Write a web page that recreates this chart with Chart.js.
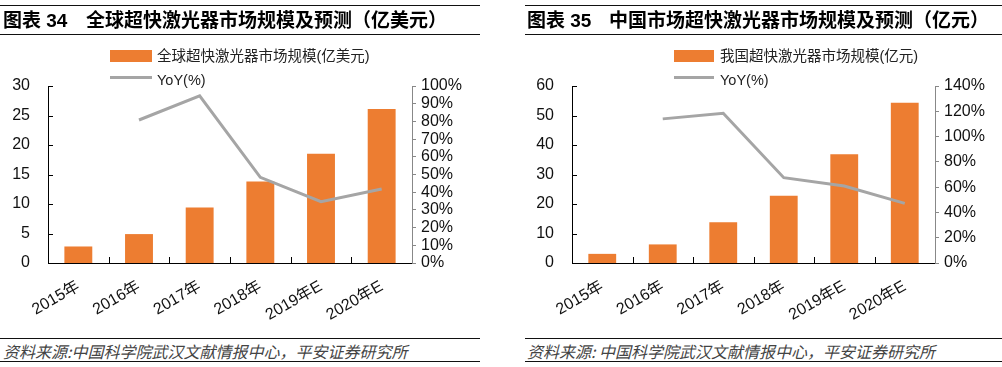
<!DOCTYPE html>
<html>
<head>
<meta charset="utf-8">
<script src="https://cdn.jsdelivr.net/npm/chart.js@4"></script>
<style>
  body { margin: 0; width: 1002px; height: 367px; background: #fff; position: relative; overflow: hidden;
         font-family: "Liberation Sans", "Noto Sans CJK SC", sans-serif; }
  .abs { position: absolute; }
  .rule { position: absolute; height: 0; border-top: 1.5px solid #111; }
  .title { position: absolute; top: 9px; font-size: 19px; font-weight: bold; color: #000; line-height: 24px; white-space: nowrap;
           font-family: "Liberation Sans", "Noto Sans CJK SC", sans-serif; }
  .src { position: absolute; top: 340px; font-size: 16px; font-style: italic; color: #444; line-height: 22px; white-space: nowrap;
         font-family: "Noto Sans CJK SC", sans-serif; }
  .lgtxt { position: absolute; font-size: 14.5px; color: #222; line-height: 18px; white-space: nowrap; }
  canvas { position: absolute; top: 0; }
</style>
</head>
<body>
<canvas id="c1" width="500" height="320" style="left:0"></canvas>
<canvas id="c2" width="502" height="320" style="left:500px"></canvas>

<div class="rule" style="left:0;width:480px;top:5px"></div>
<div class="rule" style="left:0;width:480px;top:34px"></div>
<div class="title" style="left:3px">图表 34</div>
<div class="title" style="left:86px">全球超快激光器市场规模及预测（亿美元）</div>

<div class="rule" style="left:525px;width:477px;top:5px"></div>
<div class="rule" style="left:525px;width:477px;top:34px"></div>
<div class="title" style="left:527px">图表 35</div>
<div class="title" style="left:609px">中国市场超快激光器市场规模及预测（亿元）</div>

<div class="abs" style="left:110px;top:50px;width:42px;height:12px;background:#ED7D31"></div>
<div class="lgtxt" style="left:157px;top:47px">全球超快激光器市场规模(亿美元)</div>
<div class="abs" style="left:110px;top:76px;width:42px;height:3px;background:#A5A5A5"></div>
<div class="lgtxt" style="left:157px;top:71px">YoY(%)</div>

<div class="abs" style="left:674px;top:50px;width:40px;height:12px;background:#ED7D31"></div>
<div class="lgtxt" style="left:720px;top:47px">我国超快激光器市场规模(亿元)</div>
<div class="abs" style="left:674px;top:76px;width:40px;height:3px;background:#A5A5A5"></div>
<div class="lgtxt" style="left:720px;top:71px">YoY(%)</div>

<div class="rule" style="left:0;width:480px;top:338px"></div>
<div class="rule" style="left:0;width:480px;top:361px"></div>
<div class="src" style="left:3px">资料来源:中国科学院武汉文献情报中心，平安证券研究所</div>

<div class="rule" style="left:525px;width:477px;top:338px"></div>
<div class="rule" style="left:525px;width:477px;top:361px"></div>
<div class="src" style="left:527px">资料来源: 中国科学院武汉文献情报中心，平安证券研究所</div>

<script>
// categories
var years = ['2015年', '2016年', '2017年', '2018年', '2019年E', '2020年E'];

// 全球 (亿美元) + YoY %
var globalSize = [2.8, 4.9, 9.4, 13.8, 18.5, 26.1];
var globalYoY = [null, 80.8, 94.5, 48.4, 34.6, 41.8];

// 中国 (亿元) + YoY %
var chinaSize = [3.1, 6.3, 13.8, 22.8, 36.9, 54.3];
var chinaYoY = [null, 114, 118.4, 67.5, 60.9, 47.2];

// axis ranges [max, step]
var globalLeftAxis = [30, 5];
var globalRightAxis = [100, 10];
var chinaLeftAxis = [60, 10];
var chinaRightAxis = [140, 20];

var ORANGE = '#ED7D31';
var GREY = '#A5A5A5';
var FONT = { family: '"Liberation Sans", "Noto Sans CJK SC", sans-serif', size: 16 };

// small tick marks pointing into the plot
var innerTicks = {
  id: 'innerTicks',
  afterDatasetsDraw: function(chart) {
    var ctx = chart.ctx, x = chart.scales.x, y = chart.scales.y;
    ctx.save();
    ctx.strokeStyle = '#000';
    ctx.lineWidth = 1;
    ctx.beginPath();
    for (var i = 1; i < x.ticks.length; i++) {
      var px = Math.round(x.getPixelForValue(i - 0.5)) + 0.5;
      ctx.moveTo(px, y.bottom);
      ctx.lineTo(px, y.bottom - 6);
    }
    y.ticks.forEach(function(t) {
      var py = Math.round(y.getPixelForValue(t.value)) + 0.5;
      ctx.moveTo(x.left, py);
      ctx.lineTo(x.left + 5, py);
    });
    ctx.stroke();
    ctx.restore();
  }
};

function makeChart(id, sizeData, yoyData, leftAxis, rightAxis, leftW, rightW) {
  return new Chart(id, {
    type: 'bar',
    data: {
      labels: years,
      datasets: [{
        type: 'line',
        data: yoyData,
        yAxisID: 'y1',
        borderColor: GREY,
        borderWidth: 3,
        pointRadius: 0,
        tension: 0,
        order: 0
      }, {
        data: sizeData,
        yAxisID: 'y',
        backgroundColor: ORANGE,
        categoryPercentage: 1,
        barPercentage: 0.46,
        order: 1
      }]
    },
    options: {
      responsive: false,
      devicePixelRatio: 1,
      animation: false,
      layout: { padding: { top: 86, left: 0, right: 0, bottom: 0 } },
      plugins: { legend: { display: false }, tooltip: { enabled: false } },
      scales: {
        x: {
          grid: { display: false },
          border: { color: '#000', width: 1 },
          ticks: { color: '#111', font: FONT, minRotation: 30, maxRotation: 30, padding: 6, autoSkip: false },
          afterFit: function(s) { s.height = 57; }
        },
        y: {
          position: 'left',
          min: 0, max: leftAxis[0],
          grid: { display: false },
          border: { color: '#000', width: 1 },
          ticks: { stepSize: leftAxis[1], color: '#111', font: FONT, padding: 10, autoSkip: false },
          afterFit: function(s) { s.width = leftW; }
        },
        y1: {
          position: 'right',
          min: 0, max: rightAxis[0],
          grid: { display: true, drawOnChartArea: false, drawTicks: true, tickLength: 4, color: '#888' },
          border: { color: '#888', width: 1 },
          ticks: { stepSize: rightAxis[1], color: '#111', font: FONT, padding: 5, autoSkip: false,
                   callback: function(v) { return v + '%'; } },
          afterFit: function(s) { s.width = rightW; }
        }
      }
    },
    plugins: [innerTicks]
  });
}

makeChart('c1', globalSize, globalYoY, globalLeftAxis, globalRightAxis, 48, 88);
makeChart('c2', chinaSize, chinaYoY, chinaLeftAxis, chinaRightAxis, 72, 67);
</script>
</body>
</html>
